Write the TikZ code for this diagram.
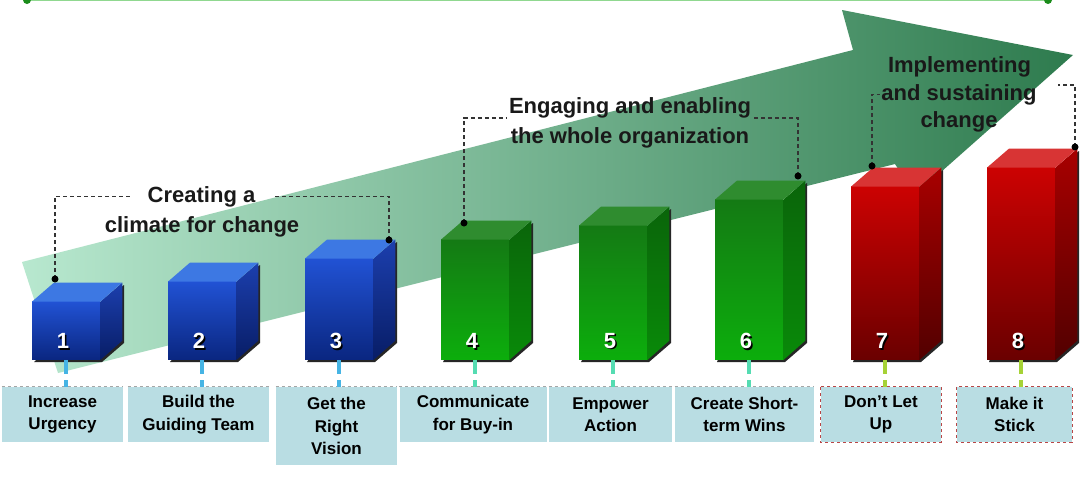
\documentclass[tikz,border=0pt]{standalone}
\usepackage{fontspec}
\setmainfont{Liberation Sans}

\definecolor{arrowL}{HTML}{B8E8CF}
\definecolor{arrowR}{HTML}{2E7B4E}
\definecolor{blueF1}{HTML}{2152D4}
\definecolor{blueF2}{HTML}{0A2680}
\definecolor{blueT}{HTML}{3D78E3}
\definecolor{blueS1}{HTML}{1C3FAE}
\definecolor{blueS2}{HTML}{081D66}
\definecolor{blueL}{HTML}{46B4E4}
\definecolor{greenF1}{HTML}{147A14}
\definecolor{greenF2}{HTML}{0CAE0C}
\definecolor{greenT}{HTML}{2F8C2F}
\definecolor{greenS1}{HTML}{0A650A}
\definecolor{greenS2}{HTML}{098A09}
\definecolor{greenL}{HTML}{55DCB2}
\definecolor{redF1}{HTML}{CC0202}
\definecolor{redF2}{HTML}{6A0000}
\definecolor{redT}{HTML}{D83434}
\definecolor{redS1}{HTML}{A80000}
\definecolor{redS2}{HTML}{520000}
\definecolor{redL}{HTML}{A6D236}
\definecolor{boxfill}{HTML}{B9DDE3}
\definecolor{lineG}{HTML}{90D890}
\definecolor{dotG}{HTML}{1A8C1A}

\tikzstyle{barfront}=[draw=none,minimum width=68pt,inner sep=0pt,anchor=south west]
\tikzstyle{num}=[font=\fontsize{22}{24}\selectfont\bfseries,text=white,inner sep=0pt]
\tikzstyle{numshadow}=[font=\fontsize{22}{24}\selectfont\bfseries,text=black,inner sep=0pt]
\tikzstyle{stepbox}=[fill=boxfill,inner sep=0pt,align=center,font=\fontsize{17}{22.5}\selectfont\bfseries]
\tikzstyle{boxedge}=[draw=black!35,dashed,line width=0.8pt]
\tikzstyle{phase}=[font=\fontsize{22}{30}\selectfont\bfseries,inner ysep=0pt,text=black!90]
\tikzstyle{bracket}=[draw=black!80,line width=1.3pt,dash pattern=on 4pt off 3pt]
\tikzstyle{dot}=[circle,fill=black,inner sep=0pt,minimum size=7pt]
\tikzstyle{stub}=[line width=3.5pt,dash pattern=on 14pt off 6pt]
\tikzstyle{topline}=[draw=lineG,line width=2pt]
\tikzstyle{enddot}=[circle,fill=dotG,inner sep=0pt,minimum size=8pt]

\begin{document}
\begin{tikzpicture}[x=1pt,y=-1pt]
\fill[white] (0,0) rectangle (1086,480);
\useasboundingbox (0,0) rectangle (1086,480);

% line along the top edge
\node[enddot] (tl) at (27,0) {};
\node[enddot] (tr) at (1048,0) {};
\path[topline] (tl) -- (tr);

% the big rising arrow behind the steps
\shade[left color=arrowL,right color=arrowR]
  (22,262) -- (853,50) -- (842,10) -- (1073,55) -- (915,195) -- (895,164) -- (58,373) -- cycle;

% First we draw the eight bars
\foreach \i/\bx/\by/\col in {1/32/302/blue, 2/168/282/blue, 3/305/259/blue, 4/441/240/green,
                             5/579/226/green, 6/715/200/green, 7/851/187/red, 8/987/168/red}
{
  \fill[black!85] ({\bx+2},362) -- ({\bx+70},362) -- ({\bx+92},343) -- ({\bx+92},{\by-17}) -- ({\bx+70},\by) -- cycle;
  \node[barfront,minimum height={360-\by},top color=\col F1,bottom color=\col F2] (bar\i) at (\bx,360) {};
  \shade[top color=\col S1,bottom color=\col S2]
    (bar\i.north east) -- ++(22,-19) -- ++(0,{360-\by}) -- (bar\i.south east) -- cycle;
  \fill[\col T] (bar\i.north west) -- ++(22,-19) -- ++(68,0) -- (bar\i.north east) -- cycle;
  \node[numshadow] (numsh\i) at ({\bx+32.5},342.5) {\i};
  \node[num] (num\i) at ({\bx+31},341) {\i};
}

% Then the step labels
\foreach \i/\cx/\cy/\w/\h/\txt in {1/62.5/414.5/121/55/{Increase\\Urgency},
                                   2/198.5/414.5/141/55/{Build the\\Guiding Team},
                                   3/336.5/426/121/78/{Get the\\Right\\Vision},
                                   4/473/414.5/147/55/{Communicate\\for Buy-in},
                                   5/610.5/414.5/123/55/{Empower\\Action},
                                   6/744.5/414.5/139/55/{Create Short-\\term Wins},
                                   7/881/414.5/120/55/{Don’t Let\\Up},
                                   8/1014.5/414.5/115/55/{Make it\\Stick}}
  \node[stepbox,minimum width=\w,minimum height=\h] (lab\i) at (\cx,\cy) {\txt};
\foreach \i in {1,...,6}
  \path[boxedge] (lab\i.north west) -- (lab\i.north east);
\foreach \i in {7,8}
  \path[boxedge,draw=red!45!gray] (lab\i.north west) rectangle (lab\i.south east);

% Connect bars with labels
\foreach \i/\col in {1/blue,2/blue,3/blue,4/green,5/green,6/green,7/red,8/red}
  \draw[stub,draw=\col L] (bar\i.south) -- (bar\i.south |- lab\i.north);

% phase captions
\node[phase,anchor=base,inner xsep=17pt] (cre) at (201.5,202) {Creating a};
\node[phase,anchor=base] (cli) at (202,232) {climate for change};
\node[phase,anchor=base,inner xsep=2pt] (eng) at (630,113) {Engaging and enabling};
\node[phase,anchor=base] (who) at (630,143) {the whole organization};
\node[phase,anchor=base] (imp) at (959.5,72) {Implementing};
\node[phase,anchor=base,inner xsep=1pt] (sus) at (959,100) {and sustaining};
\node[phase,anchor=base] (cha) at (959,127) {change};

% dashed brackets over each phase
\coordinate (d1) at (55,279);
\coordinate (d3) at (389,240);
\coordinate (d4) at (464,223);
\coordinate (d6) at (798,176);
\coordinate (d7) at (872,166);
\coordinate (d8) at (1075,147);
\coordinate (e8) at (1058,85);
\foreach \a/\b in {d1/cre.west, d3/cre.east, d4/eng.south west, d6/eng.south east, d7/sus.west, d8/e8}
  \path[bracket] (\a) |- (\b);
\foreach \a in {d1,d3,d4,d6,d7,d8}
  \node[dot] (dot\a) at (\a) {};
\end{tikzpicture}
\end{document}
